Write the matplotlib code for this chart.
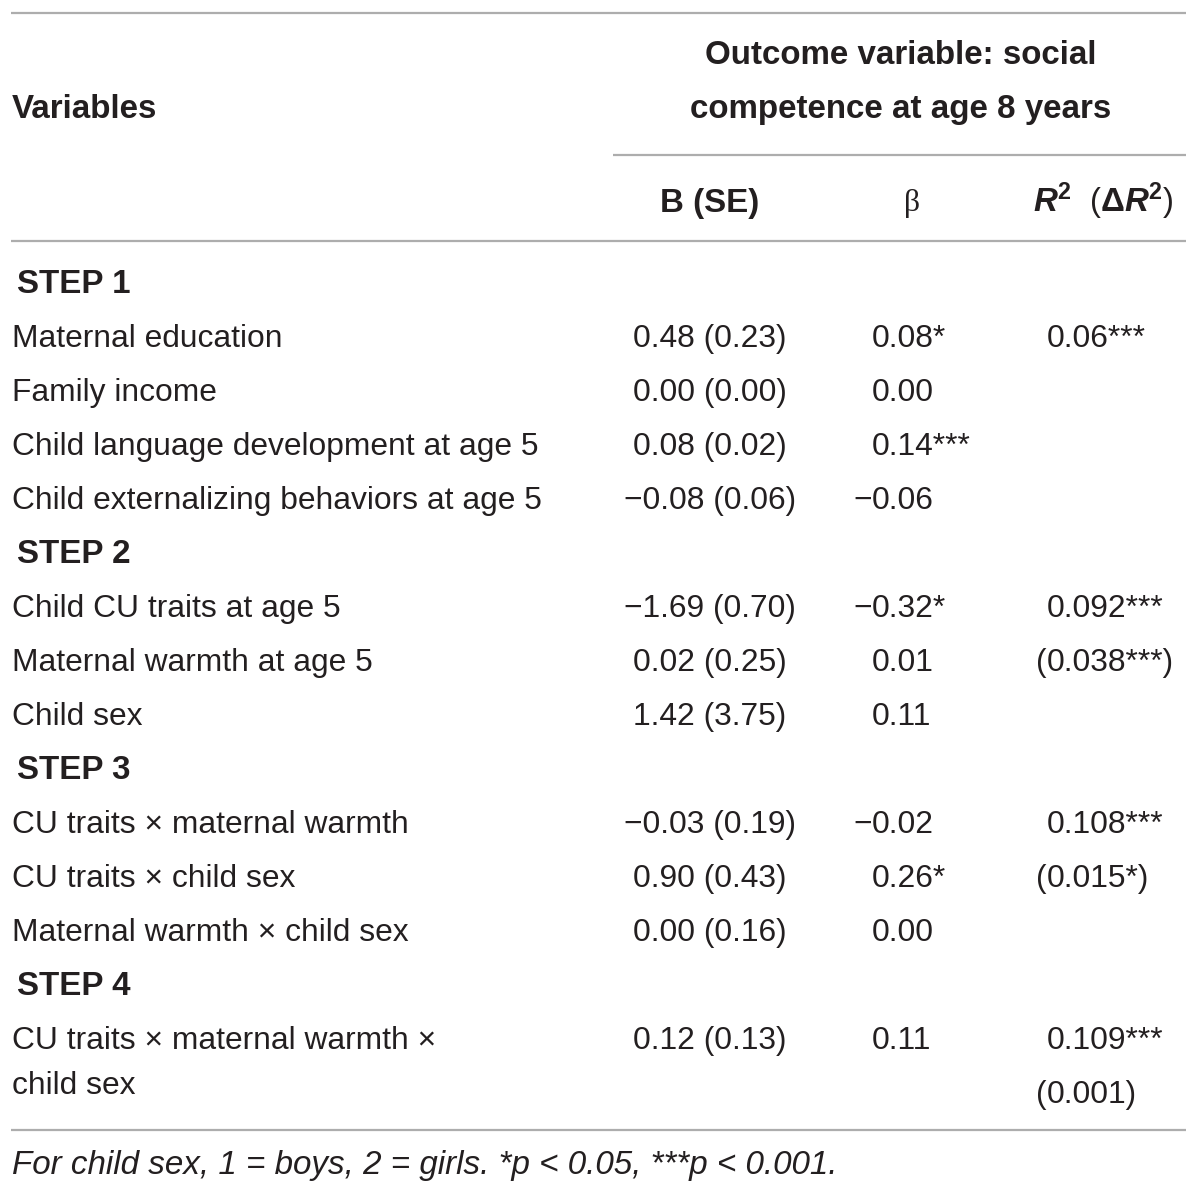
"""
Hierarchical regression table: social competence at age 8 years.
Drawn as text + rules on a pixel-sized axes.
"""

import matplotlib
matplotlib.use('Agg')
import matplotlib.pyplot as plt

# ── Data ────────────────────────────────────────────────────
STEPS = ["STEP 1", "STEP 2", "STEP 3", "STEP 4"]

variables = [
    ["Maternal education", "Family income",
     "Child language development at age 5",
     "Child externalizing behaviors at age 5"],
    ["Child CU traits at age 5", "Maternal warmth at age 5", "Child sex"],
    ["CU traits \u00d7 maternal warmth", "CU traits \u00d7 child sex",
     "Maternal warmth \u00d7 child sex"],
    ["CU traits \u00d7 maternal warmth \u00d7", "child sex"],
]

b_se = [
    ["0.48 (0.23)", "0.00 (0.00)", "0.08 (0.02)", "\u22120.08 (0.06)"],
    ["\u22121.69 (0.70)", "0.02 (0.25)", "1.42 (3.75)"],
    ["\u22120.03 (0.19)", "0.90 (0.43)", "0.00 (0.16)"],
    ["0.12 (0.13)"],
]

beta = [
    ["0.08*", "0.00", "0.14***", "\u22120.06"],
    ["\u22120.32*", "0.01", "0.11"],
    ["\u22120.02", "0.26*", "0.00"],
    ["0.11"],
]

# R2 on the step's first row, (delta R2) on the row below
r2 = ["0.06***", "0.092***", "0.108***", "0.109***"]
delta_r2 = [None, "(0.038***)", "(0.015*)", "(0.001)"]

HEADER_OUTCOME = ["Outcome variable: social", "competence at age 8 years"]
HEADER_COLS = ["B (SE)", "\u03b2"]
FOOTNOTE = "For child sex, 1 = boys, 2 = girls. *p < 0.05, ***p < 0.001."

# ── Style ───────────────────────────────────────────────────
W, H = 1200, 1194
FS = 22.9
FS_B = 23.9
INK = "#231f20"
RULE = "#adadad"

plt.rcParams['font.family'] = ['Liberation Sans', 'DejaVu Sans']
plt.rcParams['mathtext.fontset'] = 'custom'
plt.rcParams['mathtext.rm'] = 'Liberation Sans'
plt.rcParams['mathtext.it'] = 'Liberation Sans:italic'
plt.rcParams['mathtext.bf'] = 'Liberation Sans:bold'
plt.rcParams['mathtext.bfit'] = 'Liberation Sans:bold:italic'

X_VAR = 12
X_STEP = 17
X_B = 710
X_BETA = 872
X_R2 = 1047
ROW0 = 282
ROW_H = 54
WRAP_H = 45
BASE = 11      # baseline sits this far below the row's visual centre


def hang_left(ax, x, yb, s, lead):
    """Left-align at x; a leading sign or paren hangs to the left of x."""
    if s.startswith(lead):
        ax.text(x, yb, lead, ha='right', va='baseline', fontsize=FS, color=INK)
        s = s[len(lead):]
    ax.text(x, yb, s, ha='left', va='baseline', fontsize=FS, color=INK)


fig = plt.figure(figsize=(W / 100, H / 100), dpi=100)
ax = fig.add_axes([0, 0, 1, 1])
ax.set_xlim(0, W)
ax.set_ylim(H, 0)
ax.axis('off')

# rules
for y, x0 in [(13, 11), (155, 613), (241, 11), (1130, 11)]:
    ax.plot([x0, 1186], [y, y], color=RULE, lw=1.6, solid_capstyle='butt')

# header
ax.text(X_VAR, 107 + BASE, "Variables", ha='left', va='baseline',
        fontsize=FS_B, fontweight='bold', color=INK)
for k, line in enumerate(HEADER_OUTCOME):
    ax.text(901, 53 + k * ROW_H + BASE, line, ha='center', va='baseline',
            fontsize=FS_B, fontweight='bold', color=INK)
ax.text(X_B, 201 + BASE, HEADER_COLS[0], ha='center', va='baseline',
        fontsize=FS_B, fontweight='bold', color=INK)
ax.text(912, 203, HEADER_COLS[1], ha='center', va='center', fontsize=FS,
        family='Liberation Serif', color=INK)
ax.text(1033, 201 + BASE,
        r"$\mathbfit{R}^{\mathbf{2}}$  ($\mathbf{\Delta}\mathbfit{R}^{\mathbf{2}}$)",
        ha='left', va='baseline', fontsize=FS_B, color=INK)

# body
row = 0
for s, step in enumerate(STEPS):
    ax.text(X_STEP, ROW0 + row * ROW_H + BASE, step, ha='left', va='baseline',
            fontsize=FS_B, fontweight='bold', color=INK)
    row += 1
    first = row
    names = variables[s]
    n_rows = len(b_se[s])
    for i in range(n_rows):
        yb = ROW0 + row * ROW_H + BASE
        ax.text(X_B, yb, b_se[s][i], ha='center', va='baseline', fontsize=FS,
                color=INK)
        hang_left(ax, X_BETA, yb, beta[s][i], "\u2212")
        row += 1
    # variable names (a long name wraps onto extra lines)
    for i, name in enumerate(names):
        if i < n_rows:
            yb = ROW0 + (first + i) * ROW_H + BASE
        else:
            yb = ROW0 + (first + n_rows - 1) * ROW_H + BASE + (i - n_rows + 1) * WRAP_H
        ax.text(X_VAR, yb, name, ha='left', va='baseline', fontsize=FS,
                color=INK)
    yb = ROW0 + first * ROW_H + BASE
    hang_left(ax, X_R2, yb, r2[s], "(")
    if delta_r2[s] is not None:
        hang_left(ax, X_R2, yb + ROW_H, delta_r2[s], "(")

ax.text(X_VAR, 1163 + BASE, FOOTNOTE, ha='left', va='baseline', fontsize=FS_B,
        style='italic', color=INK)

fig.savefig("out.png", dpi=100)
